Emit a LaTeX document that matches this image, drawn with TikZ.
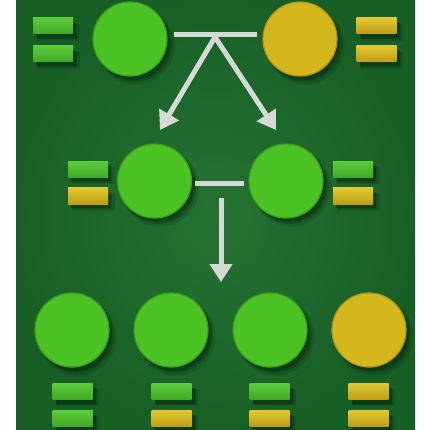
\documentclass[tikz,border=0pt]{standalone}
\usetikzlibrary{arrows.meta,shadows}
\definecolor{bg}{HTML}{1D6B2C}
\definecolor{bgdark}{HTML}{124E1E}
\definecolor{gball}{HTML}{4CC325}
\definecolor{grim}{HTML}{3A9E1C}
\definecolor{yball}{HTML}{D3B71D}
\definecolor{yrim}{HTML}{B09516}
\definecolor{gbartop}{HTML}{5ACD3A}
\definecolor{gbarbot}{HTML}{3FA826}
\definecolor{ybartop}{HTML}{E2C732}
\definecolor{ybarbot}{HTML}{BC9E16}
\definecolor{linec}{HTML}{D6DAD6}
\definecolor{shad}{HTML}{06260C}
\tikzset{
  x=1pt,y=-1pt,
  softshadow/.style={
    drop shadow={shadow xshift=5pt,shadow yshift=-6pt,shadow scale=1.06,fill=shad,opacity=0.18},
    drop shadow={shadow xshift=4pt,shadow yshift=-5pt,shadow scale=1.02,fill=shad,opacity=0.25},
    drop shadow={shadow xshift=3pt,shadow yshift=-4pt,fill=shad,opacity=0.35}},
  gballn/.style={circle,minimum size=74pt,inner sep=0pt,fill=gball,draw=grim,line width=1.2pt,softshadow},
  yballn/.style={circle,minimum size=74pt,inner sep=0pt,fill=yball,draw=yrim,line width=1.2pt,softshadow},
  gbar/.style={rectangle,minimum width=40pt,minimum height=16pt,inner sep=0pt,top color=gbartop,bottom color=gbarbot,softshadow},
  ybar/.style={rectangle,minimum width=40pt,minimum height=16pt,inner sep=0pt,top color=ybartop,bottom color=ybarbot,softshadow},
  conn/.style={draw=linec,line width=5pt},
  arr/.style={draw=linec,line width=5pt,-{Triangle[width=22pt,length=18pt]}}
}
\begin{document}
\begin{tikzpicture}
\useasboundingbox (0,0) rectangle (423,430);
\fill[white] (0,0) rectangle (423,430);
\shade[inner color=bg!90!white!95!green,outer color=bgdark] (16,0) rectangle (415,430);
\fill[bg,opacity=0.6] (16,0) rectangle (415,430);
% top row
\node[gballn] (g1) at (130,39) {};
\node[yballn] (y1) at (300,39) {};
\node[gbar] (tl1) at (53,26) {};
\node[gbar] (tl2) at (53,54) {};
\node[ybar] (tr1) at (376.5,26) {};
\node[ybar] (tr2) at (376.5,54) {};
% middle row
\node[gballn] (m1) at (154.5,181) {};
\node[gballn] (m2) at (286,181) {};
\node[gbar] (ml1) at (88,169.5) {};
\node[ybar] (ml2) at (88,196) {};
\node[gbar] (mr1) at (353,169.5) {};
\node[ybar] (mr2) at (353,196) {};
% bottom row
\node[gballn] (b1) at (72,330) {};
\node[gballn] (b2) at (171,330) {};
\node[gballn] (b3) at (270,330) {};
\node[yballn] (b4) at (369,330) {};
\node[gbar] (b1a) at (72.5,391.5) {};
\node[gbar] (b1b) at (72.5,418.5) {};
\node[gbar] (b2a) at (171.5,391.5) {};
\node[ybar] (b2b) at (171.5,418.5) {};
\node[gbar] (b3a) at (269.5,391.5) {};
\node[ybar] (b3b) at (269.5,418.5) {};
\node[ybar] (b4a) at (368.5,391.5) {};
\node[ybar] (b4b) at (368.5,418.5) {};
% connectors
\coordinate (j1) at (215,35);
\coordinate (t1) at (160,130);
\coordinate (t2) at (276,130);
\coordinate (j2) at (221,183.5);
\coordinate (t3) at (221,282);
\draw[conn] ([xshift=6pt]g1.east |- j1) -- ([xshift=-5pt]y1.west |- j1);
\draw[arr] ([yshift=-2pt]j1) -- (t1);
\draw[arr] ([yshift=-2pt]j1) -- (t2);
\draw[conn] ([xshift=3pt]m1.east |- j2) -- ([xshift=-4pt]m2.west |- j2);
\draw[arr] ([yshift=-14pt]j2) -- (t3);
\end{tikzpicture}
\end{document}
